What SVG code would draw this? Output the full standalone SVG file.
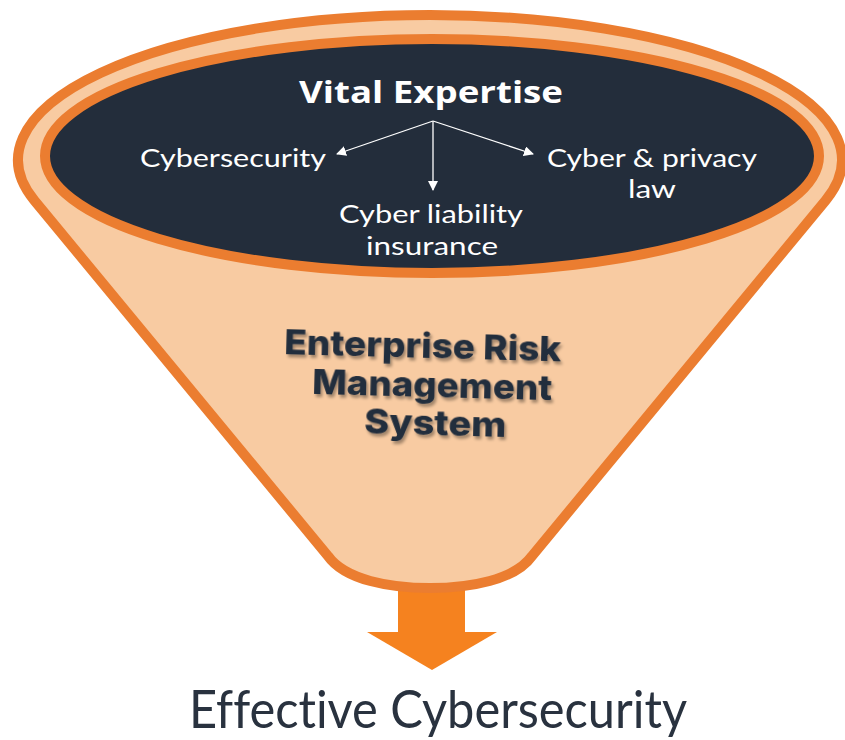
<svg xmlns="http://www.w3.org/2000/svg" width="845" height="740" viewBox="0 0 845 740">
  <defs>
    <style>
      .orange { stroke: #EB7D30; stroke-width: 10; }
      .lbl { font-family: Lato, "Open Sans", sans-serif; font-size: 25px; fill: #FFFFFF; }
      .title { font-family: "Open Sans", "Noto Sans", sans-serif; font-size: 31px; font-weight: 700; fill: #FFFFFF; }
      .erm { font-family: Inter, "Open Sans", sans-serif; font-size: 34px; font-weight: 800; fill: #222D3C; }
      .result { font-family: Lato, "Liberation Sans", sans-serif; font-size: 52px; fill: #29323F; font-variant-ligatures: none; }
      .conn { stroke: #FFFFFF; stroke-width: 1.3; fill: none; }
    </style>
    <marker id="ah" viewBox="0 0 10 10" refX="9" refY="5" markerWidth="10" markerHeight="10" markerUnits="userSpaceOnUse" orient="auto">
      <path d="M0,0 L10,5 L0,10 Z" fill="#FFFFFF"/>
    </marker>
    <filter id="sh" x="-10%" y="-30%" width="120%" height="160%">
      <feDropShadow dx="2" dy="3" stdDeviation="1.8" flood-color="#000000" flood-opacity="0.35"/>
    </filter>
  </defs>

  <g id="output-arrow">
    <rect x="398" y="575" width="67" height="58" fill="#F5821F"/>
    <polygon points="367,632 497,632 432,670" fill="#F5821F"/>
  </g>

  <g id="funnel">
    <path class="orange" fill="#F8CBA2" d="M34.4,200.5 A412,145 0 1 1 825.6,200.5 L532,556 C515,580 470,588 430,588 C390,588 345,580 328,556 Z"/>
    <text class="erm" filter="url(#sh)" transform="rotate(1.5 432 395)">
      <tspan x="283" y="358" textLength="277" lengthAdjust="spacingAndGlyphs">Enterprise Risk</tspan>
      <tspan x="312" y="397" textLength="240" lengthAdjust="spacingAndGlyphs">Management</tspan>
      <tspan x="365" y="435" textLength="142" lengthAdjust="spacingAndGlyphs">System</tspan>
    </text>
  </g>

  <g id="vital-expertise">
    <ellipse class="orange" cx="432" cy="156" rx="387" ry="117" fill="#232D3B"/>
    <text class="title" x="299" y="103" textLength="264" lengthAdjust="spacingAndGlyphs">Vital Expertise</text>
  </g>

  <g id="connectors">
    <line class="conn" x1="433" y1="121" x2="337" y2="154" marker-end="url(#ah)"/>
    <line class="conn" x1="433" y1="121" x2="433" y2="190" marker-end="url(#ah)"/>
    <line class="conn" x1="433" y1="121" x2="533" y2="154" marker-end="url(#ah)"/>
  </g>

  <g id="cybersecurity">
    <text class="lbl" x="140" y="167" textLength="186" lengthAdjust="spacingAndGlyphs">Cybersecurity</text>
  </g>
  <g id="cyber-liability-insurance">
    <text class="lbl" x="339" y="223" textLength="184" lengthAdjust="spacingAndGlyphs">Cyber liability</text>
    <text class="lbl" x="366" y="255" textLength="132" lengthAdjust="spacingAndGlyphs">insurance</text>
  </g>
  <g id="cyber-privacy-law">
    <text class="lbl" x="547" y="167" textLength="210" lengthAdjust="spacingAndGlyphs">Cyber &amp; privacy</text>
    <text class="lbl" x="628" y="198" textLength="48" lengthAdjust="spacingAndGlyphs">law</text>
  </g>

  <g id="effective-cybersecurity">
    <text class="result" x="189" y="728" textLength="498" lengthAdjust="spacingAndGlyphs">Effective Cybersecurity</text>
  </g>
</svg>
